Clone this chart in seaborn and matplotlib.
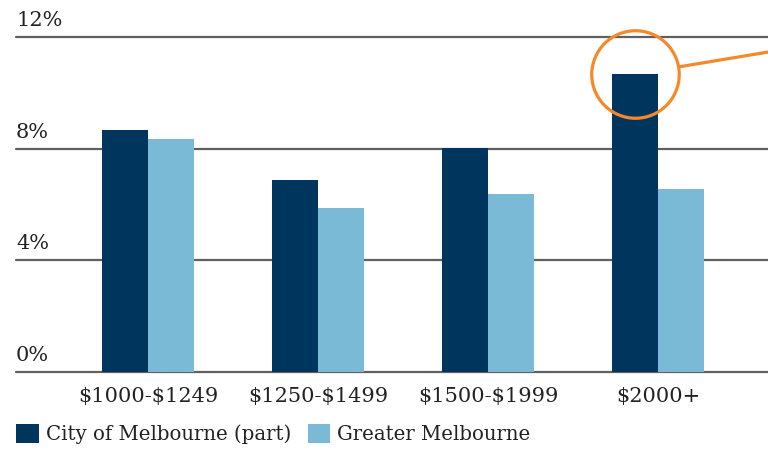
import matplotlib
matplotlib.use("Agg")
import matplotlib.pyplot as plt
import seaborn as sns
import pandas as pd

categories = ["$1000-$1249", "$1250-$1499", "$1500-$1999", "$2000+"]
city_values = [8.68, 6.88, 8.03, 10.67]
greater_values = [8.36, 5.88, 6.39, 6.55]
series_names = ["City of Melbourne (part)", "Greater Melbourne"]
y_ticks = [0, 4, 8, 12]
y_tick_labels = ["0%", "4%", "8%", "12%"]

colors = ["#00365e", "#7bbad7"]
orange = "#f5892a"
grid_color = "#606060"
text_color = "#222222"

df = pd.DataFrame({
    "band": categories * 2,
    "value": city_values + greater_values,
    "series": [series_names[0]] * 4 + [series_names[1]] * 4,
})

sns.set_style("white")
plt.rcParams["font.family"] = ["DejaVu Serif"]

fig = plt.figure(figsize=(7.68, 4.55), dpi=100)
ax = fig.add_axes([16 / 768, 83 / 455, 1 - 16 / 768, 335 / 455])

sns.barplot(data=df, x="band", y="value", hue="series", palette=colors,
            width=0.54, saturation=1, linewidth=0, ax=ax, legend=True)

ax.set_ylim(0, 12)
ax.set_xlim(-0.776, 3.647)
for t, lab in zip(y_ticks, y_tick_labels):
    ax.axhline(t, color=grid_color, lw=1.6, zorder=0, clip_on=False)
    ax.text(0, t + 0.25, lab, transform=ax.get_yaxis_transform(),
            ha="left", va="bottom", fontsize=15, color=text_color)
ax.set_yticks([])
ax.set_xticks(range(len(categories)))
ax.set_xticklabels([c.replace("$", r"\$") for c in categories])
ax.set_xlabel("")
ax.set_ylabel("")
ax.tick_params(axis="x", length=0, pad=11, labelsize=15, labelcolor=text_color)
sns.despine(ax=ax, left=True, bottom=True)

# highlight the top of the tallest bar
ix = 3 - 0.135
iy = city_values[3]
ax.plot([ix], [iy], marker="o", markersize=63, markerfacecolor="none",
        markeredgecolor=orange, markeredgewidth=2.3, clip_on=False, zorder=5)
ax.annotate("", xy=(1.0, 11.46), xycoords=("axes fraction", "data"),
            xytext=(ix, iy), textcoords="data",
            arrowprops=dict(arrowstyle="-", color=orange, lw=2.3,
                            shrinkA=32, shrinkB=0), annotation_clip=False)

ax.legend(loc="upper left", bbox_to_anchor=(0, -0.155), ncol=2, frameon=False,
          fontsize=14.2, handlelength=1.15, handleheight=1.15, handletextpad=0.35,
          columnspacing=0.85, borderaxespad=0, borderpad=0, labelcolor=text_color)

fig.savefig("out.png", dpi=100)
